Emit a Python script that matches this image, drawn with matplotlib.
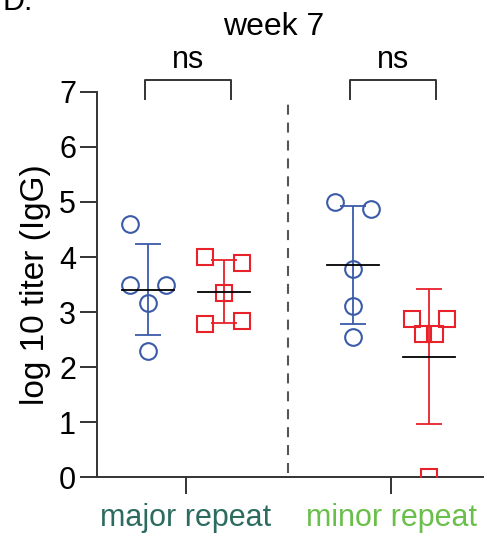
import numpy as np
import matplotlib
matplotlib.use("Agg")
import matplotlib.pyplot as plt

plt.rcParams["font.family"] = ["Liberation Sans", "DejaVu Sans"]

# data (log10 IgG titer, week 7)
groups = ["major repeat", "minor repeat"]
group_colors = ["#2b6b60", "#6abf4b"]
blue_major = [4.60, 3.49, 3.49, 3.16, 2.29]
red_major = [4.00, 3.89, 3.35, 2.78, 2.84]
blue_minor = [5.00, 4.87, 3.78, 3.11, 2.55]
red_minor = [2.87, 2.87, 2.60, 2.60, 0.00]
jitter = [-0.09, -0.09, 0.09, 0.0, 0.0]
jitter_red = [-0.09, 0.09, 0.0, -0.09, 0.09]
jitter_red_minor = [-0.085, 0.09, -0.03, 0.03, 0.0]
jitter_blue_minor = [-0.09, 0.085, 0.0, 0.0, 0.0]
signif = ["ns", "ns"]

BLUE = "#3b5ba8"
RED = "#e8212b"
off = 0.185

fig = plt.figure(figsize=(4.87, 5.37), dpi=100)
ax = fig.add_axes([0.199, 0.1117, 0.793, 0.717])


def draw(vals, jit, xc, color, marker, ms):
    vals = np.array(vals)
    xs = xc + np.array(jit)
    m = vals.mean()
    sd = vals.std(ddof=1)
    ax.errorbar(xc, m, yerr=sd, color=color, lw=1.3, capsize=9.5,
                capthick=1.3, zorder=2)
    ax.plot(xs, vals, linestyle="none", marker=marker, ms=ms,
            mfc="none", mec=color, mew=1.5, zorder=3)
    ax.plot([xc - 0.127, xc + 0.127], [m, m], color="black", lw=1.3, zorder=4)


draw(blue_major, jitter, 0 - off, BLUE, "o", 12)
draw(red_major, jitter_red, 0 + off, RED, "s", 11)
draw(blue_minor, jitter_blue_minor, 1 - off, BLUE, "o", 12)
draw(red_minor, jitter_red_minor, 1 + off, RED, "s", 11)

ax.axvline(0.5, ymin=0.01, ymax=0.975, color="#555555", lw=1.5,
           dashes=(4.8, 3.8))

ax.set_xlim(-0.434, 1.449)
ax.set_ylim(0, 7)
ax.set_yticks(range(0, 8))
ax.set_xticks([0, 1])
ax.set_xticklabels(groups)
for lbl, c in zip(ax.get_xticklabels(), group_colors):
    lbl.set_color(c)
ax.tick_params(axis="both", labelsize=22, length=12, width=1.4, color="#333333")
ax.tick_params(axis="x", pad=7)
ax.tick_params(axis="y", pad=3)
for s in ["top", "right"]:
    ax.spines[s].set_visible(False)
for s in ["left", "bottom"]:
    ax.spines[s].set_linewidth(1.4)
    ax.spines[s].set_color("#333333")
ax.set_ylabel("log 10 titer (IgG)", fontsize=24, labelpad=6)

# significance brackets
for i, txt in enumerate(signif):
    x0, x1 = i - 0.2, i + 0.22
    ax.plot([x0, x0, x1, x1], [6.87, 7.22, 7.22, 6.87], color="#333333",
            lw=1.4, clip_on=False)
    ax.text((x0 + x1) / 2, 7.3, txt, ha="center", va="bottom", fontsize=22)

ax.text(0.43, 8.18, "week 7", ha="center", va="center", fontsize=23)
fig.text(0.005, 1.025, "D.", fontsize=22, ha="left", va="top")

fig.savefig("out.png", dpi=100)
